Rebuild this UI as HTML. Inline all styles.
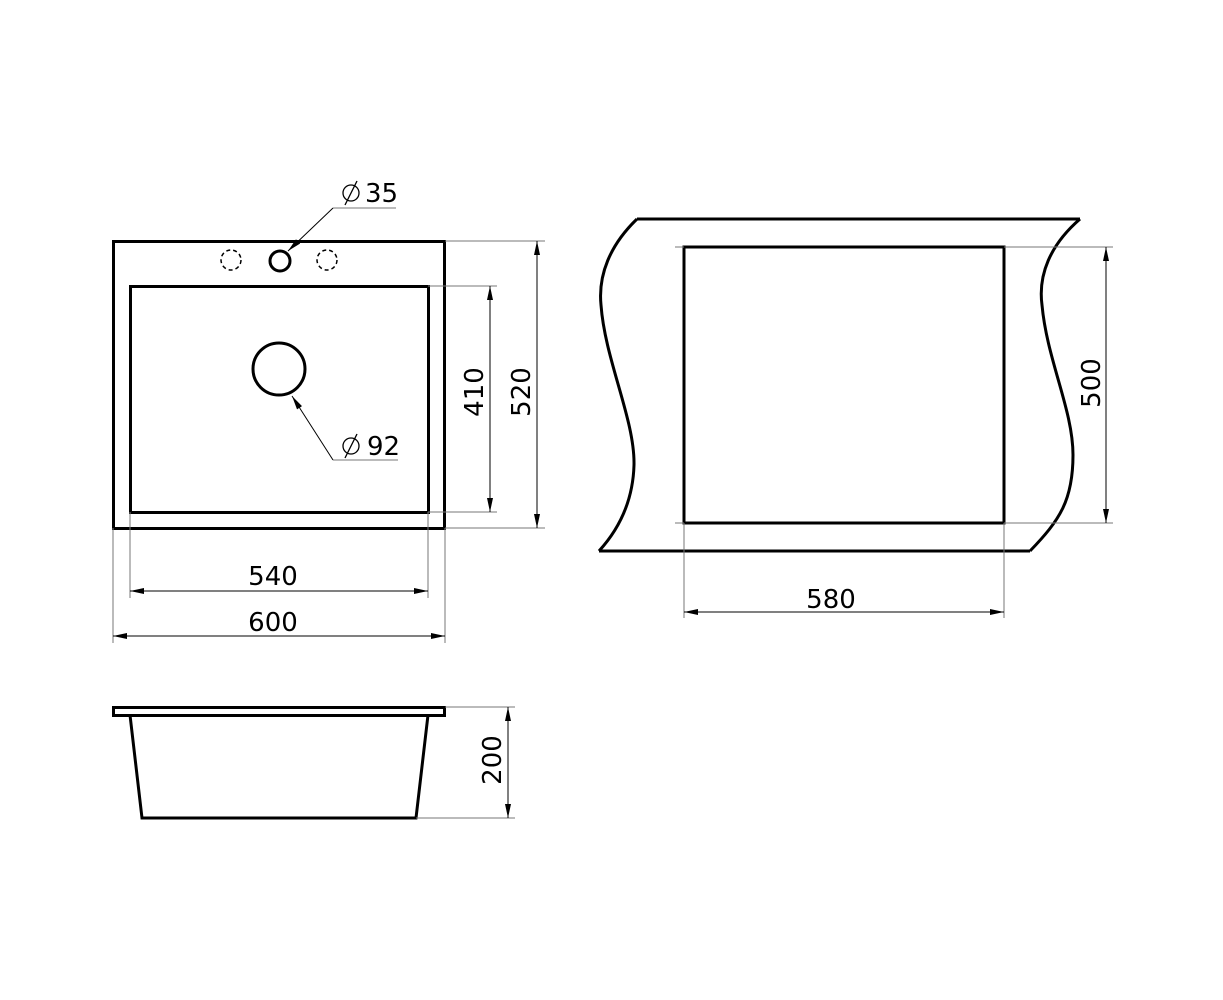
<!DOCTYPE html>
<html><head><meta charset="utf-8"><style>html,body{margin:0;padding:0;background:#fff}svg{display:block}</style></head><body>
<svg width="1223" height="1000" viewBox="0 0 1223 1000" xmlns="http://www.w3.org/2000/svg">
<defs>
<marker id="a" viewBox="0 0 14 6" refX="14" refY="3" markerWidth="14" markerHeight="6" markerUnits="userSpaceOnUse" orient="auto-start-reverse"><path d="M0,0 L14,3 L0,6 z" fill="#000"/></marker>
</defs>
<g fill="none" stroke="#000" stroke-width="3">
<rect x="113.5" y="241.5" width="331" height="287"/>
<rect x="130.5" y="286.5" width="298" height="226"/>
<circle cx="280" cy="261" r="10"/>
<circle cx="279" cy="369" r="26"/>
<rect x="113.5" y="707.5" width="331" height="8"/>
<path d="M130,715 L142,818 L416,818 L428,715"/>
<rect x="684" y="247" width="320" height="276"/>
<path d="M637,219 L1080,219"/>
<path d="M599,551 L1030,551"/>
<path d="M637,219 C610,245 598,275 601,305 C605,360 635,420 634,465 C633,500 620,528 599,551"/>
<path d="M1080,219 C1050,245 1038,275 1042,305 C1047,360 1073,410 1073,455 C1073,500 1060,520 1030,551"/>
</g>
<g fill="none" stroke="#000" stroke-width="1.5" stroke-dasharray="4,3">
<circle cx="231" cy="260" r="10"/>
<circle cx="327" cy="260" r="10"/>
</g>
<g fill="none" stroke="#777" stroke-width="1">
<path d="M445,241 H545 M428,286 H497 M445,528 H545 M428,512 H497"/>
<path d="M130,512 V598 M428,512 V598 M113,528 V643 M445,528 V643"/>
<path d="M445,707 H515 M416,818 H515"/>
<path d="M1004,247 H1113 M1004,523 H1113 M675,247 H684 M675,523 H684"/>
<path d="M684,523 V618 M1004,523 V618"/>
<path d="M333,208 H396 M333,460 H398"/>
</g>
<g stroke="#000" stroke-width="1" fill="none">
<line x1="537" y1="241" x2="537" y2="528" marker-start="url(#a)" marker-end="url(#a)"/>
<line x1="490" y1="286" x2="490" y2="512" marker-start="url(#a)" marker-end="url(#a)"/>
<line x1="130" y1="591" x2="428" y2="591" marker-start="url(#a)" marker-end="url(#a)"/>
<line x1="113" y1="636" x2="445" y2="636" marker-start="url(#a)" marker-end="url(#a)"/>
<line x1="508" y1="707" x2="508" y2="818" marker-start="url(#a)" marker-end="url(#a)"/>
<line x1="1106" y1="247" x2="1106" y2="523" marker-start="url(#a)" marker-end="url(#a)"/>
<line x1="684" y1="612" x2="1004" y2="612" marker-start="url(#a)" marker-end="url(#a)"/>
<line x1="333" y1="208" x2="288" y2="251" marker-end="url(#a)"/>
<line x1="333" y1="460" x2="292" y2="396" marker-end="url(#a)"/>
</g>
<g font-family="'DejaVu Sans','Liberation Sans',sans-serif" font-size="26" fill="#000">
<text x="365" y="202">35</text>
<text x="367" y="455">92</text>
<text x="273" y="585" text-anchor="middle">540</text>
<text x="273" y="631" text-anchor="middle">600</text>
<text x="831" y="608" text-anchor="middle">580</text>
<text transform="translate(530,392) rotate(-90)" text-anchor="middle">520</text>
<text transform="translate(483,392) rotate(-90)" text-anchor="middle">410</text>
<text transform="translate(501,760) rotate(-90)" text-anchor="middle">200</text>
<text transform="translate(1100,383) rotate(-90)" text-anchor="middle">500</text>
</g>
<g fill="none" stroke="#000" stroke-width="1.3">
<circle cx="351" cy="193" r="8"/><line x1="345" y1="205" x2="357" y2="181"/>
<circle cx="351" cy="446" r="8"/><line x1="345" y1="458" x2="357" y2="434"/>
</g>
</svg>
</body></html>
